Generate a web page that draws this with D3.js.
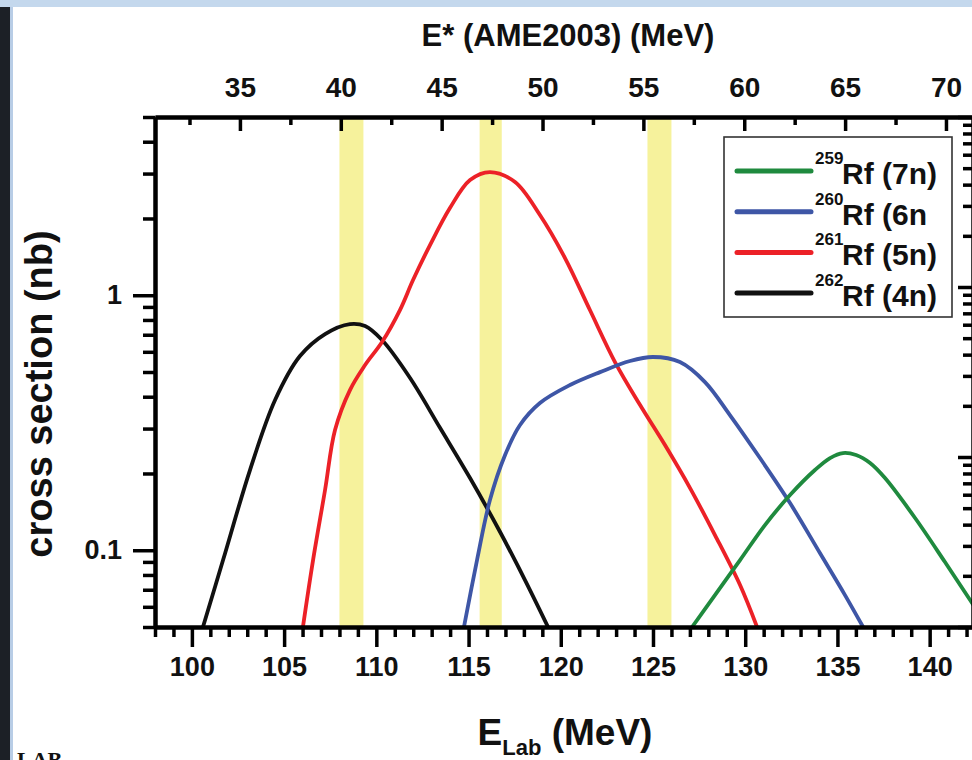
<!DOCTYPE html>
<html>
<head>
<meta charset="utf-8">
<script src="https://cdn.jsdelivr.net/npm/d3@7"></script>
<style>
  html, body { margin: 0; padding: 0; background: #fff; }
  svg { display: block; }
  text { font-family: "Liberation Sans", Arial, Helvetica, sans-serif; font-weight: bold; fill: #111; }
</style>
</head>
<body>
<svg id="chart" width="972" height="760"></svg>
<script>
// ---- data: calculated excitation functions for 248Cm + 18O -> Rf isotopes ----
const eLab4n  = [100.60, 101.69, 103.15, 104.51, 105.86, 107.22, 108.57, 109.39, 110.31, 111.83, 113.46, 115.08, 116.71, 118.06, 119.31];
const sigma4n = [0.05, 0.0915, 0.2063, 0.3882, 0.5775, 0.7043, 0.7709, 0.7572, 0.6673, 0.4735, 0.3014, 0.1919, 0.1179, 0.0764, 0.05];

const eLab5n  = [106.02, 106.57, 107.22, 107.76, 108.57, 109.39, 110.31, 111.28, 111.99, 112.91, 113.99, 115.08, 116.16, 117.52, 118.87, 120.23, 121.58, 122.94, 124.30, 125.65, 127.01, 128.36, 129.72, 130.64];
const sigma5n = [0.05, 0.0915, 0.1722, 0.2960, 0.4248, 0.5324, 0.6555, 0.8749, 1.147, 1.573, 2.198, 2.830, 3.042, 2.779, 2.063, 1.399, 0.8749, 0.5470, 0.3710, 0.2585, 0.1753, 0.1147, 0.0730, 0.05];

const eLab6n  = [114.75, 115.46, 116.16, 116.98, 117.79, 118.87, 120.50, 122.13, 123.75, 125.00, 126.46, 127.82, 129.17, 130.80, 132.43, 134.05, 135.41, 136.39];
const sigma6n = [0.05, 0.0915, 0.1573, 0.2362, 0.3097, 0.3778, 0.4445, 0.4995, 0.5521, 0.5726, 0.5470, 0.4566, 0.3390, 0.2299, 0.1531, 0.0975, 0.0667, 0.05];

const eLab7n  = [127.12, 128.36, 129.72, 131.07, 132.43, 133.78, 134.60, 135.30, 136.01, 136.77, 137.58, 139.21, 140.83, 142.30, 143.27];
const sigma7n = [0.05, 0.0667, 0.0915, 0.1255, 0.1646, 0.2063, 0.2299, 0.2405, 0.2362, 0.2198, 0.1919, 0.1338, 0.0899, 0.0621, 0.0486];

// beam energy windows (lab frame, MeV)
const bandStart = [108.0, 115.6, 124.7];
const bandEnd   = [109.3, 116.8, 126.0];

// series labels (mass number, channel) in legend order
const seriesMass  = ["259", "260", "261", "262"];
const seriesLabel = ["Rf (7n)", "Rf (6n", "Rf (5n)", "Rf (4n)"];
const seriesColor = ["#1f8a3e", "#3e56a6", "#ec2127", "#111111"];

// axis ranges and ticks
const eLabDomain   = [98, 142.35];
const eStarDomain  = [30.79, 71.34];
const sigmaDomain  = [0.05, 5];
const rightDomain  = [0.01, 10];
const eLabMajor    = [100, 105, 110, 115, 120, 125, 130, 135, 140];
const eStarMajor   = [35, 40, 45, 50, 55, 60, 65, 70];
const sigmaLabels  = [0.1, 1];

// ---- layout ----
const W = 972, H = 760;
const P = { left: 155, right: 973, top: 117, bottom: 627 };
const svg = d3.select("#chart");

// slide backdrop around the figure
svg.append("rect").attr("width", W).attr("height", H).attr("fill", "#fff");
svg.append("rect").attr("x", 0).attr("y", 0).attr("width", 10).attr("height", H).attr("fill", "#1c2026");
svg.append("rect").attr("x", 10).attr("y", 0).attr("width", 3).attr("height", H).attr("fill", "#b8cde6");
svg.append("rect").attr("x", 0).attr("y", 0).attr("width", W).attr("height", 7).attr("fill", "#c4d8ed");
svg.append("text").attr("x", 17).attr("y", 767)
  .style("font-family", "'Liberation Serif', serif").style("font-size", "22px").text("LAB");

const x = d3.scaleLinear().domain(eLabDomain).range([P.left, P.right]);
const xTop = d3.scaleLinear().domain(eStarDomain).range([P.left, P.right]);
const y = d3.scaleLog().domain(sigmaDomain).range([P.bottom, P.top]);
const yRight = d3.scaleLog().domain(rightDomain).range([P.bottom, P.top]);

svg.append("defs").append("clipPath").attr("id", "plotClip")
  .append("rect").attr("x", P.left).attr("y", P.top)
  .attr("width", P.right - P.left).attr("height", P.bottom - P.top);

// yellow energy windows
svg.append("g").selectAll("rect").data(d3.range(bandStart.length)).join("rect")
  .attr("x", i => x(bandStart[i]))
  .attr("width", i => x(bandEnd[i]) - x(bandStart[i]))
  .attr("y", P.top).attr("height", P.bottom - P.top)
  .attr("fill", "#f6f29c");

// curves
const series = [
  { e: eLab4n, s: sigma4n, c: seriesColor[3] },
  { e: eLab5n, s: sigma5n, c: seriesColor[2] },
  { e: eLab6n, s: sigma6n, c: seriesColor[1] },
  { e: eLab7n, s: sigma7n, c: seriesColor[0] }
];
const line = d3.line().x(d => x(d[0])).y(d => y(d[1])).curve(d3.curveCatmullRom.alpha(0.5));
svg.append("g").attr("clip-path", "url(#plotClip)").selectAll("path").data(series).join("path")
  .attr("d", d => line(d3.zip(d.e, d.s)))
  .attr("fill", "none").attr("stroke", d => d.c).attr("stroke-width", 3.8)
  .attr("stroke-linejoin", "round");

// ---- axes ----
function styleAxis(g, fs) {
  g.select(".domain").attr("stroke", "#000").attr("stroke-width", 4);
  g.selectAll(".tick line").attr("stroke", "#000").attr("stroke-width", 3.5);
  g.selectAll(".tick text").style("font-size", (fs || 27) + "px").attr("fill", "#111")
    .style("font-family", "'Liberation Sans', Arial, sans-serif").style("font-weight", "bold");
}

// bottom: lab energy, outward ticks
const eLabMinor = d3.range(98, 143).filter(v => !eLabMajor.includes(v));
svg.append("g").attr("transform", `translate(0,${P.bottom})`)
  .call(d3.axisBottom(x).tickValues(eLabMinor).tickSize(10).tickSizeOuter(0).tickFormat(""))
  .call(g => styleAxis(g));
svg.append("g").attr("transform", `translate(0,${P.bottom})`)
  .call(d3.axisBottom(x).tickValues(eLabMajor).tickSize(20).tickSizeOuter(0).tickPadding(10).tickFormat(d3.format("d")))
  .call(g => styleAxis(g, 27));

// top: excitation energy, inward ticks
const eStarMinor = eStarMajor.map(v => v - 2.5);
svg.append("g").attr("transform", `translate(0,${P.top})`)
  .call(d3.axisTop(xTop).tickValues(eStarMinor).tickSize(-8).tickSizeOuter(0).tickFormat(""))
  .call(g => styleAxis(g));
svg.append("g").attr("transform", `translate(0,${P.top})`)
  .call(d3.axisTop(xTop).tickValues(eStarMajor).tickSize(-14).tickSizeOuter(0).tickPadding(20).tickFormat(d3.format("d")))
  .call(g => styleAxis(g, 28));

// log tick values within a domain
function logTicksIn(dom) {
  const out = [];
  for (let k = -3; k <= 1; k++) for (let m = 1; m <= 9; m++) {
    const v = +(m * Math.pow(10, k)).toPrecision(6);
    if (v >= dom[0] - 1e-9 && v <= dom[1] + 1e-9) out.push(v);
  }
  return out;
}
const leftMinor = logTicksIn(sigmaDomain).filter(v => !sigmaLabels.includes(v));

// left: cross section, outward ticks
svg.append("g").attr("transform", `translate(${P.left},0)`)
  .call(d3.axisLeft(y).tickValues(leftMinor).tickSize(12).tickSizeOuter(0).tickFormat(""))
  .call(g => styleAxis(g));
svg.append("g").attr("transform", `translate(${P.left},0)`)
  .call(d3.axisLeft(y).tickValues(sigmaLabels).tickSize(22).tickSizeOuter(0).tickPadding(11)
    .tickFormat(d => d >= 1 ? d3.format("d")(d) : d3.format(".1f")(d)))
  .call(g => styleAxis(g, 27));

// right: second log layer, inward ticks, labels fall outside the frame
const rightMajor = [0.01, 0.1, 1, 10];
svg.append("g").attr("transform", `translate(${P.right},0)`)
  .call(d3.axisRight(yRight).tickValues(logTicksIn(rightDomain).filter(v => !rightMajor.includes(v))).tickSize(-10).tickSizeOuter(0).tickFormat(""))
  .call(g => styleAxis(g));
svg.append("g").attr("transform", `translate(${P.right},0)`)
  .call(d3.axisRight(yRight).tickValues(rightMajor).tickSize(-15).tickSizeOuter(0).tickFormat(""))
  .call(g => styleAxis(g));

// ---- titles ----
svg.append("text").attr("x", 568).attr("y", 46).attr("text-anchor", "middle")
  .style("font-size", "31px").text("E* (AME2003) (MeV)");

const xt = svg.append("text").attr("x", 565).attr("y", 745).attr("text-anchor", "middle").style("font-size", "37px");
xt.append("tspan").text("E");
xt.append("tspan").attr("dy", 10).style("font-size", "22px").text("Lab");
xt.append("tspan").attr("dy", -10).text(" (MeV)");

svg.append("text").attr("transform", "translate(52,394) rotate(-90)").attr("text-anchor", "middle")
  .style("font-size", "38px").text("cross section (nb)");

// ---- legend ----
const L = { x: 724, y: 137, w: 228, h: 180 };
const lg = svg.append("g");
lg.append("rect").attr("x", L.x).attr("y", L.y).attr("width", L.w).attr("height", L.h)
  .attr("fill", "#fff").attr("stroke", "#333").attr("stroke-width", 1.6);
const rowY = i => L.y + 34 + i * 40.7;
const rows = lg.selectAll("g.row").data(d3.range(seriesMass.length)).join("g").attr("class", "row");
rows.append("line").attr("x1", 737).attr("x2", 811).attr("y1", rowY).attr("y2", rowY)
  .attr("stroke", i => seriesColor[i]).attr("stroke-width", 5).attr("stroke-linecap", "round");
rows.append("text").attr("x", 815).attr("y", i => rowY(i) - 7).style("font-size", "17px").text(i => seriesMass[i]);
rows.append("text").attr("x", 842).attr("y", i => rowY(i) + 13).style("font-size", "30px").text(i => seriesLabel[i]);
</script>
</body>
</html>
